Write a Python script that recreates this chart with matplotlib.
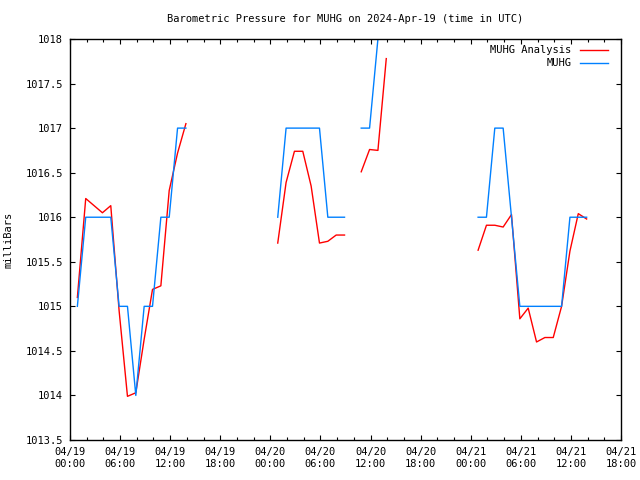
"""
Barometric pressure for MUHG, observations vs analysis (gnuplot look).
Output: out.png
"""
import numpy as np
import pandas as pd
import matplotlib
matplotlib.use("Agg")
import matplotlib.pyplot as plt
import matplotlib.dates as mdates

FIG_PATH = "out.png"

# hourly segments: (start time, values); gaps between segments are missing data
seg_starts = ["2024-04-19 00:53", "2024-04-20 00:53", "2024-04-20 10:53", "2024-04-21 00:53"]

obs_1 = [1015, 1016, 1016, 1016, 1016, 1015, 1015, 1014, 1015, 1015, 1016, 1016, 1017, 1017]
ana_1 = [1015.10, 1016.21, 1016.13, 1016.05, 1016.13, 1014.95, 1013.99, 1014.03,
         1014.63, 1015.19, 1015.23, 1016.30, 1016.72, 1017.05]

obs_2 = [1016, 1017, 1017, 1017, 1017, 1017, 1016, 1016, 1016]
ana_2 = [1015.71, 1016.39, 1016.74, 1016.74, 1016.35, 1015.71, 1015.73, 1015.80, 1015.80]

obs_3 = [1017, 1017, 1018]
ana_3 = [1016.51, 1016.76, 1016.75, 1017.78]

obs_4 = [1016, 1016, 1017, 1017, 1016, 1015, 1015, 1015, 1015, 1015, 1015, 1016, 1016, 1016]
ana_4 = [1015.63, 1015.91, 1015.91, 1015.89, 1016.03, 1014.86, 1014.98, 1014.60,
         1014.65, 1014.65, 1015.00, 1015.62, 1016.04, 1015.98]

obs_segs = [obs_1, obs_2, obs_3, obs_4]
ana_segs = [ana_1, ana_2, ana_3, ana_4]

RED = "#ff0000"
BLUE = "#0080ff"
MONO = "DejaVu Sans Mono"


def seg_times(start, n):
    return pd.date_range(start, periods=n, freq="h")


def main():
    plt.rcParams["font.family"] = MONO
    fig = plt.figure(figsize=(6.4, 4.8), dpi=100)
    ax = fig.add_axes([70 / 640, 1 - 440 / 480, 551 / 640, 401 / 480])

    for i, (start, vals) in enumerate(zip(seg_starts, ana_segs)):
        ax.plot(seg_times(start, len(vals)), vals, color=RED, lw=1.0,
                label="MUHG Analysis" if i == 0 else None)
    for i, (start, vals) in enumerate(zip(seg_starts, obs_segs)):
        ax.plot(seg_times(start, len(vals)), vals, color=BLUE, lw=1.0,
                label="MUHG" if i == 0 else None)

    ax.set_xlim(pd.Timestamp("2024-04-19 00:00"), pd.Timestamp("2024-04-21 18:00"))
    ax.set_ylim(1013.5, 1018)
    ax.set_yticks(np.arange(1013.5, 1018.01, 0.5))
    ax.yaxis.set_major_formatter(plt.FuncFormatter(lambda v, p: f"{v:g}"))

    ax.xaxis.set_major_locator(mdates.HourLocator(byhour=range(0, 24, 6)))
    ax.xaxis.set_minor_locator(mdates.HourLocator(byhour=range(0, 24, 2)))
    ax.xaxis.set_major_formatter(mdates.DateFormatter("%m/%d\n%H:%M"))

    ax.tick_params(which="both", direction="in", top=True, right=True,
                   labelsize=7.5, width=0.8, pad=5)
    ax.tick_params(which="major", length=3.5)
    ax.tick_params(which="minor", length=2)
    for s in ax.spines.values():
        s.set_linewidth(1.0)

    ax.set_ylabel("milliBars", fontsize=7.5, labelpad=9)
    ax.set_title("Barometric Pressure for MUHG on 2024-Apr-19 (time in UTC)",
                 fontsize=7.5, pad=12)

    ax.legend(loc="upper right", bbox_to_anchor=(1 - 7 / 551, 1), frameon=False,
              markerfirst=False, fontsize=7.5, handlelength=2.7,
              labelspacing=0.3, borderaxespad=0.2, handletextpad=0.8)

    fig.savefig(FIG_PATH, dpi=100)
    plt.close(fig)
    print(f"Saved {FIG_PATH}")


if __name__ == "__main__":
    main()
